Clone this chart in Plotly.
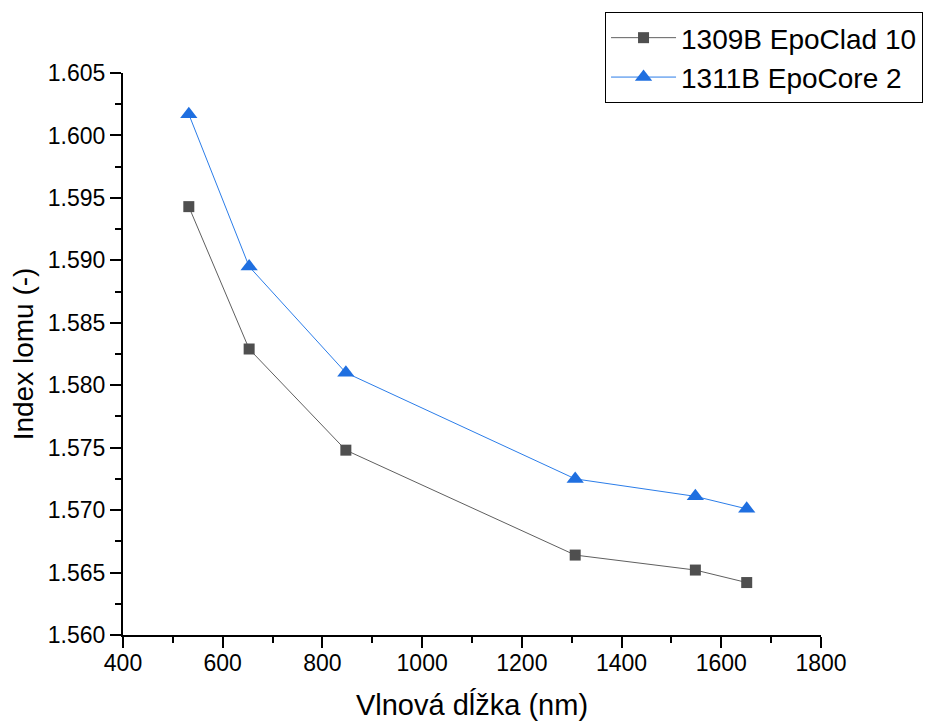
import plotly.graph_objects as go

wavelength = [532, 653, 847, 1307, 1548, 1651]
epoclad = [1.5943, 1.5829, 1.5748, 1.5664, 1.5652, 1.5642]
epocore = [1.6017, 1.5895, 1.5810, 1.5725, 1.5711, 1.5701]
names = ["1309B EpoClad 10", "1311B EpoCore 2"]

FONT = "Arial, Liberation Sans, sans-serif"

fig = go.Figure()
fig.add_trace(go.Scatter(
    x=wavelength, y=epoclad, name=names[0], mode="lines+markers",
    line=dict(color="#5f5f5f", width=1),
    marker=dict(symbol="square", size=11, color="#4f4f4f"),
))
fig.add_trace(go.Scatter(
    x=wavelength, y=epocore, name=names[1], mode="lines+markers",
    line=dict(color="#2b7de9", width=1),
    marker=dict(symbol="triangle-up", size=15, color="#1f6fe0"),
))

axis_common = dict(
    showline=True, linecolor="black", linewidth=2,
    ticks="outside", ticklen=11, tickwidth=2, tickcolor="black",
    showgrid=False, zeroline=False, mirror=False, automargin=False,
    tickfont=dict(family=FONT, size=23, color="black"),
)

fig.update_xaxes(
    range=[400, 1800], dtick=200, tick0=400, ticklabelstandoff=-5,
    minor=dict(ticks="outside", ticklen=6, tickwidth=2, tickcolor="black", dtick=100),
    title=dict(text="Vlnová dĺžka (nm)", font=dict(family=FONT, size=29, color="black"), standoff=20),
    **axis_common,
)
fig.update_yaxes(
    range=[1.560, 1.605], dtick=0.005, tick0=1.560, tickformat=".3f",
    minor=dict(ticks="outside", ticklen=6, tickwidth=2, tickcolor="black", dtick=0.0025),
    title=dict(text="Index lomu (-)", font=dict(family=FONT, size=28, color="black"), standoff=12),
    **axis_common,
)

fig.update_layout(
    width=932, height=722,
    margin=dict(l=115, r=119, t=65, b=95, autoexpand=False),
    paper_bgcolor="white", plot_bgcolor="white",
    font=dict(family=FONT, color="black"),
    legend=dict(
        xref="container", yref="container",
        x=0.6406, y=0.9945, xanchor="left", yanchor="top",
        bordercolor="black", borderwidth=1, bgcolor="white",
        font=dict(family=FONT, size=28, color="black"),
        itemwidth=65, tracegroupgap=0,
    ),
    showlegend=True,
)

fig.write_html("out.html")
